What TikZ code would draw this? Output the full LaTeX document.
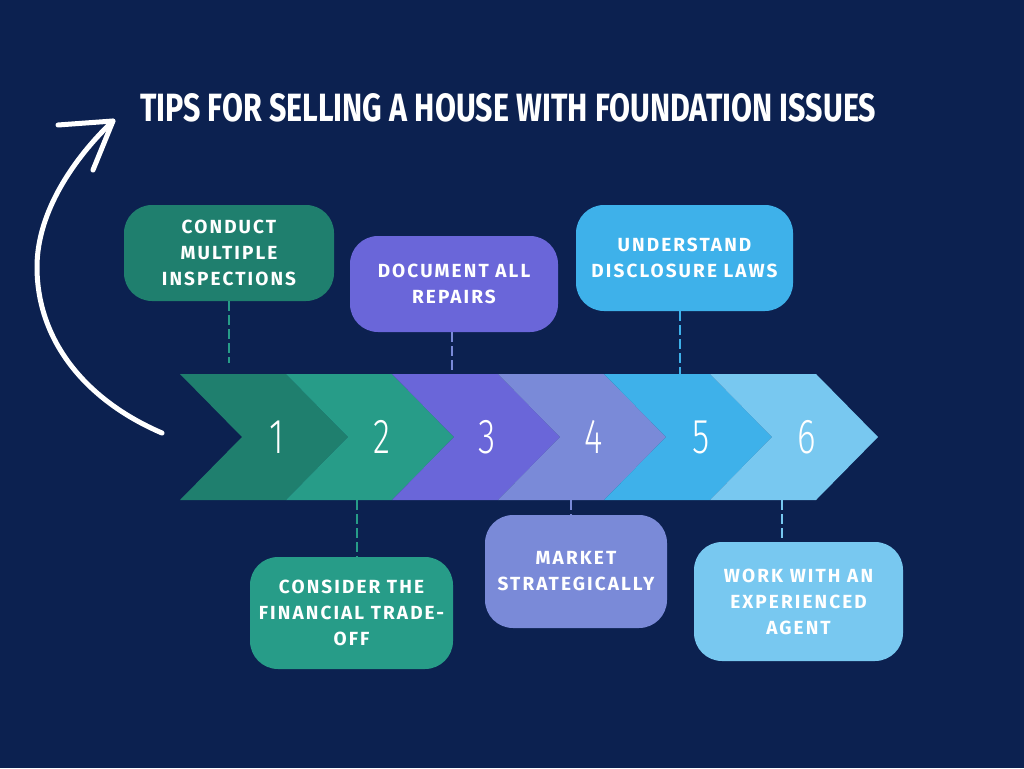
\documentclass[tikz,border=0pt]{standalone}
\usepackage{fontspec}
\setmainfont{Fira Sans}
\newfontfamily\boxfont{Fira Sans}[LetterSpace=11]
\newfontfamily\titlefont{Fira Sans}
\newfontfamily\numfont{Fira Sans Light}
\definecolor{bg}{HTML}{0C2150}
\definecolor{cA}{HTML}{1F7F6E}
\definecolor{cB}{HTML}{279C88}
\definecolor{cC}{HTML}{6A66D9}
\definecolor{cD}{HTML}{7A8AD8}
\definecolor{cE}{HTML}{3EB1EA}
\definecolor{cF}{HTML}{78C8F0}
\begin{document}
\begin{tikzpicture}[x=1pt,y=-1pt,
  tipbox/.style={rounded corners=28pt, inner sep=0pt, align=center, text=white,
    font=\boxfont\bfseries\fontsize{19}{26}\selectfont},
  link/.style={line width=2pt, dash pattern=on 10pt off 4pt},
  numlabel/.style={text=white, inner sep=0pt},
  bigarrow/.style={white, line width=5pt, line cap=round, line join=round}]
\useasboundingbox (0,0) rectangle (1024,768);
\fill[bg] (0,0) rectangle (1024,768);
% title
\node[anchor=base west, inner sep=0pt, text=white] (title) at (140,121)
  {\resizebox{736pt}{28pt}{\titlefont\bfseries TIPS FOR SELLING A HOUSE WITH FOUNDATION ISSUES}};
% curved arrow
\coordinate (arrS) at (162,433);
\coordinate (arrM) at (37,267);
\coordinate (arrT) at (113,121);
\coordinate (armA) at (58,125);
\coordinate (armB) at (93,170);
\draw[bigarrow] (arrS) .. controls (85,400) and (37,340) .. (arrM)
  .. controls (37,212) and (74,158) .. (arrT);
\draw[bigarrow] (armA) -- (arrT) -- (armB);
% chevrons
\foreach \i/\c in {0/cA,1/cB,2/cC,3/cD,4/cE,5/cF}{
  \pgfmathsetmacro{\xo}{180+106*\i}
  \fill[\c] (\xo,374) -- ++(106,0) -- ++(62,63) -- ++(-62,63) -- ++(-106,0) -- ++(62,-63) -- cycle;
}
% numbers
\foreach \n/\x in {1/277,2/382,3/487,4/594,5/701,6/807}{
  \node[numlabel] (n\n) at (\x,437) {\scalebox{0.72}[1]{\numfont\fontsize{49}{49}\selectfont \n}};
}
% boxes
\node[tipbox, fill=cA, minimum width=210pt, minimum height=96pt] (b1) at (229,253) {CONDUCT\\MULTIPLE\\INSPECTIONS};
\node[tipbox, fill=cC, minimum width=208pt, minimum height=96pt] (b3) at (454,284) {DOCUMENT ALL\\REPAIRS};
\node[tipbox, fill=cE, minimum width=217pt, minimum height=106pt] (b5) at (684.5,258) {UNDERSTAND\\DISCLOSURE LAWS};
\node[tipbox, fill=cB, minimum width=203pt, minimum height=112pt] (b2) at (351.5,613) {CONSIDER THE\\FINANCIAL TRADE-\\OFF};
\node[tipbox, fill=cD, minimum width=182pt, minimum height=113pt] (b4) at (576,571.5) {MARKET\\STRATEGICALLY};
\node[tipbox, fill=cF, minimum width=209pt, minimum height=119pt] (b6) at (798.5,601.5) {WORK WITH AN\\EXPERIENCED\\AGENT};
% connectors
\coordinate (k1) at (229,363);
\coordinate (k3) at (452,374);
\coordinate (k5) at (680,374);
\coordinate (k2) at (357,500);
\coordinate (k4) at (571,500);
\coordinate (k6) at (782,500);
\draw[link, cB] (b1.south -| k1) -- (k1);
\draw[link, cD] (b3.south -| k3) -- (k3);
\draw[link, cE] (b5.south -| k5) -- (k5);
\draw[link, cB] (k2) -- (b2.north -| k2);
\draw[link, cD] (k4) -- (b4.north -| k4);
\draw[link, cF] (k6) -- (b6.north -| k6);
\end{tikzpicture}
\end{document}
